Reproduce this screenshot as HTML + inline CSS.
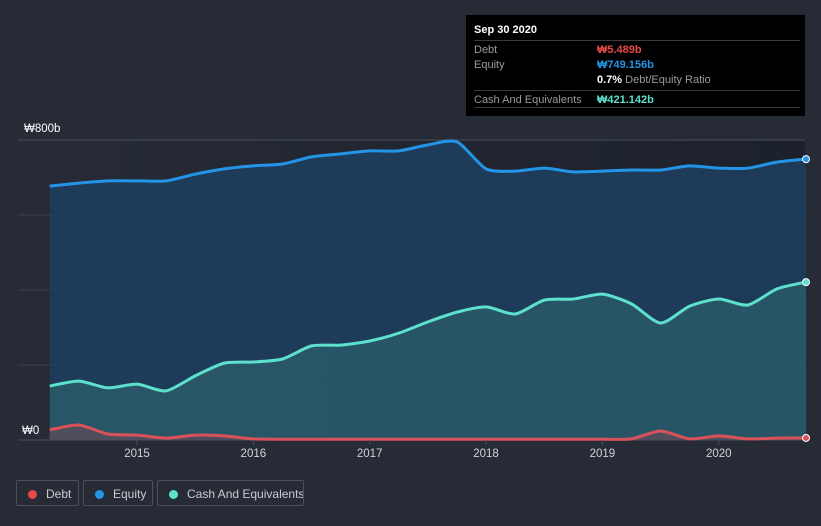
<!DOCTYPE html>
<html><head><meta charset="utf-8"><style>
html,body{margin:0;padding:0;background:#262b36;width:821px;height:526px;overflow:hidden;font-family:"Liberation Sans","Noto Sans CJK KR",sans-serif}
#tip{position:absolute;left:466px;top:15px;width:339px;height:101px;background:#000;color:#fff;font-size:11px}
.row{position:absolute;left:8px;right:5px;border-top:1px solid #3a3a3a;height:17px}
.l{position:absolute;left:0;top:3px;color:#9a9a9a;white-space:nowrap}
.v{position:absolute;left:123px;top:3px;font-weight:bold;white-space:nowrap}
.leg{position:absolute;top:480px;height:26px;border:1px solid #4a505c;border-radius:2px;color:#c8ccd2;font-size:12px;line-height:26px;box-sizing:border-box;white-space:nowrap;overflow:hidden}
.dot{display:inline-block;width:9px;height:9px;border-radius:50%;margin:0 9px 0 11px;vertical-align:-1px}
</style></head><body>
<svg id="chart" width="821" height="526" style="position:absolute;left:0;top:0">
<defs><linearGradient id="bg" x1="0" y1="0" x2="1" y2="0"><stop offset="0" stop-color="#262b36"/><stop offset="1" stop-color="#1c212b"/></linearGradient></defs>
<rect x="18" y="140" width="787" height="300" fill="url(#bg)"/>
<g id="grid"></g><g id="areas"></g><g id="lines"></g><g id="axis"></g>
</svg>
<div id="tip">
<div style="position:absolute;left:8px;top:9px;font-weight:bold;font-size:11px">Sep 30 2020</div>
<div class="row" style="top:25px"><span class="l">Debt</span><span class="v" style="color:#e84a4a">₩5.489b</span></div>
<div class="row" style="top:42px;border:none"><span class="l" style="top:2px">Equity</span><span class="v" style="color:#2394e6;top:2px">₩749.156b</span></div>
<div class="row" style="top:58px;border:none"><span class="v" style="color:#fff;top:1px">0.7% <span style="color:#9a9a9a;font-weight:normal">Debt/Equity Ratio</span></span></div>
<div class="row" style="top:75px"><span class="l">Cash And Equivalents</span><span class="v" style="color:#5de0cc">₩421.142b</span></div>
<div class="row" style="top:92px;height:0"></div>
</div>
<div class="leg" style="left:16px;width:63px"><span class="dot" style="background:#e84a4a"></span>Debt</div>
<div class="leg" style="left:83px;width:70px"><span class="dot" style="background:#2394e6"></span>Equity</div>
<div class="leg" style="left:157px;width:147px"><span class="dot" style="background:#5de0cc"></span>Cash And Equivalents</div>
<script>
const times=[2014.25,2014.5,2014.75,2015,2015.25,2015.5,2015.75,2016,2016.25,2016.5,2016.75,2017,2017.25,2017.5,2017.75,2018,2018.25,2018.5,2018.75,2019,2019.25,2019.5,2019.75,2020,2020.25,2020.5,2020.75];
const equity=[677,685,691,691,691,709,723,731,736,755,763,771,771,787,795,723,717,725,715,717,720,720,731,725,725,741,749];
const cash=[144,157,139,149,131,171,205,208,216,251,253,264,285,315,341,355,336,373,376,389,363,312,357,376,360,403,421];
const debt=[27,40,16,13,5,13,11,3,2,2,2,2,2,2,2,2,2,2,2,2,3,24,3,11,3,5,5.5];
const yTicks=[0,200,400,600,800];
const xTicks=[2015,2016,2017,2018,2019,2020];
const NS="http://www.w3.org/2000/svg";
const X=t=>137+(t-2015)*116.35;
const Y=v=>440-v*300/800;
function el(tag,a,p){const e=document.createElementNS(NS,tag);for(const k in a)e.setAttribute(k,a[k]);document.getElementById(p).appendChild(e);return e;}
function path(vals){const p=times.map((t,i)=>[X(t),Y(vals[i])]);let d="M"+p[0];for(let i=0;i<p.length-1;i++){const a=p[Math.max(0,i-1)],b=p[i],c=p[i+1],e=p[Math.min(p.length-1,i+2)];const k=0.12;d+=` C${b[0]+(c[0]-a[0])*k},${b[1]+(c[1]-a[1])*k} ${c[0]-(e[0]-b[0])*k},${c[1]-(e[1]-b[1])*k} ${c[0]},${c[1]}`;}return d;}
yTicks.forEach(v=>{const g=el("line",{x1:18,x2:805,y1:Y(v),y2:Y(v),stroke:v==0||v==800?"#4a505c":"#3a4250","stroke-width":1},"grid");

});
const yl0=el("text",{x:22,y:Y(0)-6,fill:"#fff","font-size":11.5},"axis");yl0.textContent="₩0";


const yl8=el("text",{x:24,y:Y(800)-8,fill:"#fff","font-size":11.5},"axis");yl8.textContent="₩800b";


xTicks.forEach(t=>{el("line",{x1:X(t),x2:X(t),y1:440,y2:445,stroke:"#4a505c"},"axis");const tx=el("text",{x:X(t),y:457,fill:"#d0d4da","font-size":11.5,"text-anchor":"middle"},"axis");tx.textContent=t;

});
const x0=X(times[0]),x1=X(times[times.length-1]);
[[equity,"#1e3e5e",0.9,"#2394e6","equity"],[cash,"#2e6870",0.6,"#5de0cc","cash"],[debt,"#6a4a55",0.6,"#d9525a","debt"]].forEach(s=>{
const d=path(s[0]);
const a=el("path",{d:d+` L${x1},440 L${x0},440 Z`,fill:s[1],"fill-opacity":s[2]},"areas");


const l=el("path",{d:d,fill:"none",stroke:s[3],"stroke-width":3},"lines");


const c=el("circle",{cx:x1,cy:Y(s[0][s[0].length-1]),r:3.5,fill:s[3],stroke:"#fff","stroke-width":1},"lines");


});
</script>
</body></html>
